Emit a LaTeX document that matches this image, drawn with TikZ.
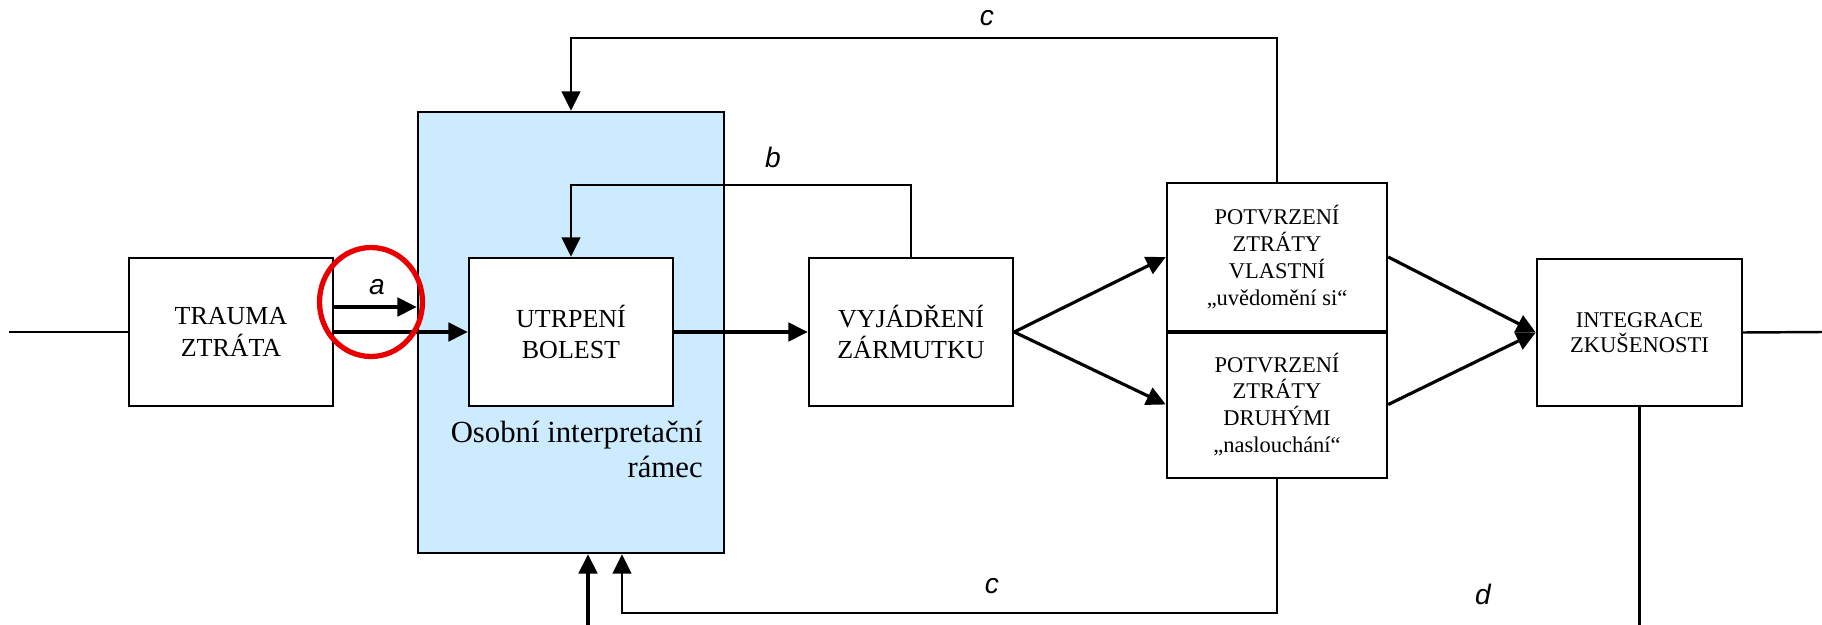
\documentclass[tikz,border=0pt]{standalone}
\usepackage{fontspec}
\setmainfont{Liberation Serif}
\newfontfamily\lblfont{Liberation Sans}
\usetikzlibrary{arrows.meta,calc}
\definecolor{framefill}{RGB}{204,235,255}
\definecolor{circred}{RGB}{232,0,0}
\begin{document}
\begin{tikzpicture}[x=0.02cm,y=-0.02cm,
  boxA/.style={draw, line width=1.4pt, fill=white, minimum width=4.08cm, minimum height=2.96cm, inner sep=0pt, align=center, font=\fontsize{14.8}{18}\selectfont},
  boxP/.style={draw, line width=1.4pt, fill=white, minimum width=4.4cm, minimum height=2.95cm, inner sep=0pt, align=center, font=\fontsize{12.8}{15.3}\selectfont},
  boxI/.style={draw, line width=1.4pt, fill=white, minimum width=4.1cm, minimum height=2.94cm, inner sep=0pt, align=center, font=\fontsize{12.8}{14.2}\selectfont},
  framebox/.style={draw, line width=1.4pt, fill=framefill, minimum width=6.12cm, minimum height=8.82cm, inner sep=0pt},
  conn/.style={line width=1.4pt},
  arr/.style={line width=1.8pt, -{Triangle[length=11pt,width=10.5pt]}},
  fb/.style={line width=1.4pt, -{Triangle[length=11pt,width=10.5pt]}},
  lbl/.style={font=\lblfont\itshape\fontsize{16}{18}\selectfont, inner sep=0pt}
]
\useasboundingbox (0,0) rectangle (1822,625);

% frame
\node[framebox] (fr) at (571,332.5) {};
\node[anchor=north east, align=right, inner sep=0pt, font=\fontsize{17.5}{19.8}\selectfont] (frt) at (703,421) {Osobní interpretační\\rámec};

% boxes
\node[boxA] (tr) at (231,332) {TRAUMA\\ZTRÁTA};
\node[boxA] (ut) at (571,332) {UTRPENÍ\\BOLEST};
\node[boxA] (vy) at (911,332) {VYJÁDŘENÍ\\ZÁRMUTKU};
\node[boxP] (p1) at (1277,257) {POTVRZENÍ\\ZTRÁTY\\VLASTNÍ\\„uvědomění si“};
\node[boxP] (p2) at (1277,404.5) {POTVRZENÍ\\ZTRÁTY\\DRUHÝMI\\„naslouchání“};
\draw[line width=2.8pt] (p1.south west) -- (p1.south east);
\node[boxI] (ig) at (1639.5,332.5) {INTEGRACE\\ZKUŠENOSTI};

% helper coordinates
\coordinate (inL) at (9,332);
\coordinate (outR) at (1822,332);
\coordinate (ya) at (0,307);
\coordinate (cT) at (0,38);
\coordinate (bT) at (0,185);
\coordinate (cB) at (622,613);
\coordinate (bin) at (588,625);
\coordinate (dB) at (0,625);

% connectors
\draw[conn] (inL) -- (tr.west);
\draw[arr] (tr.east |- ya) -- (fr.west |- ya);
\draw[arr] (tr.east) -- (ut.west);
\draw[arr] (ut.east) -- (vy.west);
\draw[fb] (vy.north) -- (vy.north |- bT) -| (ut.north);
\draw[fb] (p1.north) -- (p1.north |- cT) -| (fr.north);
\draw[arr] (vy.east) -- (p1.west);
\draw[arr] (vy.east) -- (p2.west);
\draw[arr] (p1.east) -- (ig.west);
\draw[arr] (p2.east) -- (ig.west);
\draw[conn] (ig.east) -- (outR);
\draw[conn] (ig.south) -- (ig.south |- dB);
\draw[fb] (p2.south) |- (cB) -- (cB |- fr.south);
\draw[arr] (bin) -- (bin |- fr.south);

% labels
\node[lbl] (la) at (377,287) {a};
\node[lbl] (lb) at (773,157) {b};
\node[lbl] (lc1) at (987,18) {c};
\node[lbl] (lc2) at (992,586) {c};
\node[lbl] (ld) at (1483,594) {d};

% red circle
\draw[circred, line width=3pt] (371,302) ellipse [x radius=1.03cm, y radius=1.09cm];
\end{tikzpicture}
\end{document}
